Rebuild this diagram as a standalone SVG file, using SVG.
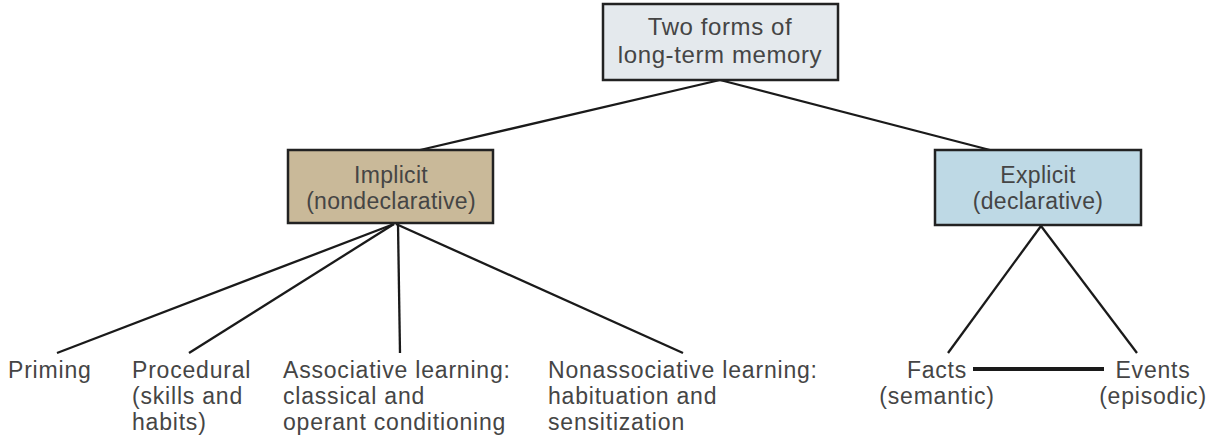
<svg xmlns="http://www.w3.org/2000/svg" width="1215" height="443" viewBox="0 0 1215 443">
<style>
.box{stroke:#222;stroke-width:2.5}
.lbl{font-family:"Liberation Sans",Arial,sans-serif;fill:#454545}
.bx{font-size:23px;text-anchor:middle;letter-spacing:0.3px}
.top{font-size:24px;text-anchor:middle;letter-spacing:0.6px}
.leaf{font-size:23px;letter-spacing:0.8px}
.c{text-anchor:middle}
.ln{stroke:#1a1a1a;stroke-width:2.3;fill:none}
.thick{stroke:#1a1a1a;stroke-width:4;fill:none}
</style>
<rect width="1215" height="443" fill="#ffffff"/>
<g id="connectors">
<line class="ln" x1="720" y1="80" x2="420" y2="150"/>
<line class="ln" x1="720" y1="80" x2="990" y2="150"/>
<line class="ln" x1="394" y1="224" x2="57" y2="353"/>
<line class="ln" x1="394" y1="224" x2="189" y2="353"/>
<line class="ln" x1="398" y1="224" x2="400" y2="353"/>
<line class="ln" x1="396" y1="224" x2="683" y2="353"/>
<line class="ln" x1="1041" y1="226" x2="948" y2="353"/>
<line class="ln" x1="1041" y1="226" x2="1137" y2="353"/>
<line class="thick" x1="973" y1="369" x2="1104" y2="369"/>
</g>
<g id="node-top">
<rect class="box" x="603" y="4" width="235" height="76" fill="#e4e9ed"/>
<text class="lbl top" x="720" y="35">Two forms of</text>
<text class="lbl top" x="720" y="63">long-term memory</text>
</g>
<g id="node-implicit">
<rect class="box" x="288" y="150" width="205" height="73" fill="#c9b999"/>
<text class="lbl bx" x="391" y="183">Implicit</text>
<text class="lbl bx" x="391" y="209">(nondeclarative)</text>
</g>
<g id="node-explicit">
<rect class="box" x="935" y="150" width="206" height="75" fill="#bed9e5"/>
<text class="lbl bx" x="1038" y="183">Explicit</text>
<text class="lbl bx" x="1038" y="209">(declarative)</text>
</g>
<g id="node-priming">
<text class="lbl leaf" x="8" y="378">Priming</text>
</g>
<g id="node-procedural">
<text class="lbl leaf" x="132" y="378">Procedural</text>
<text class="lbl leaf" x="132" y="404">(skills and</text>
<text class="lbl leaf" x="132" y="430">habits)</text>
</g>
<g id="node-associative">
<text class="lbl leaf" x="283" y="378">Associative learning:</text>
<text class="lbl leaf" x="283" y="404">classical and</text>
<text class="lbl leaf" x="283" y="430">operant conditioning</text>
</g>
<g id="node-nonassociative">
<text class="lbl leaf" x="548" y="378">Nonassociative learning:</text>
<text class="lbl leaf" x="548" y="404">habituation and</text>
<text class="lbl leaf" x="548" y="430">sensitization</text>
</g>
<g id="node-facts">
<text class="lbl leaf c" x="937" y="378">Facts</text>
<text class="lbl leaf c" x="937" y="404">(semantic)</text>
</g>
<g id="node-events">
<text class="lbl leaf c" x="1153" y="378">Events</text>
<text class="lbl leaf c" x="1153" y="404">(episodic)</text>
</g>
</svg>
